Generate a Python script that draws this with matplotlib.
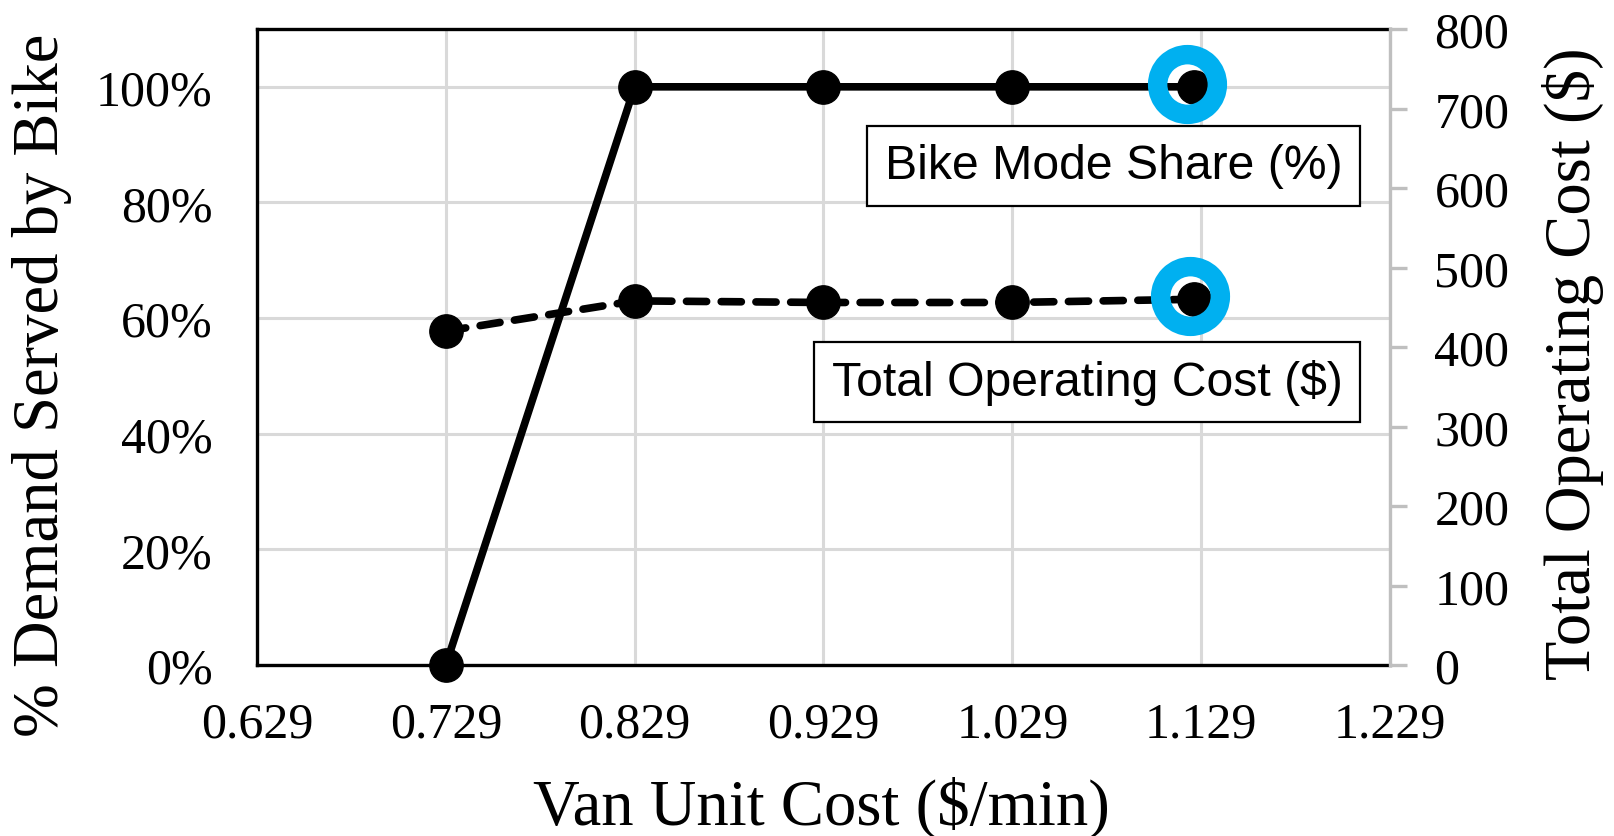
import matplotlib
matplotlib.use("Agg")
import matplotlib.pyplot as plt
from matplotlib.ticker import PercentFormatter

# data
van_cost = [0.729, 0.829, 0.929, 1.029, 1.125]
bike_share = [0.0, 1.0, 1.0, 1.0, 1.0]
total_cost = [420, 458, 456, 456, 460]
xticks = [0.629, 0.729, 0.829, 0.929, 1.029, 1.129, 1.229]
# highlight rings (x, share) and (x, cost)
ring_share = (1.1215, 1.005)
ring_cost = (1.123, 464)

plt.rcParams["font.family"] = ["Liberation Serif", "DejaVu Serif"]
plt.rcParams["lines.scale_dashes"] = False

fig = plt.figure(figsize=(16.15, 8.37), dpi=100)
ax = fig.add_axes([257/1615, 1-666/837, 1133/1615, 636/837])
ax2 = ax.twinx()

grid_c = "#D9D9D9"
ax.set_xlim(0.629, 1.229)
ax.set_ylim(0, 1.1)
ax.set_xticks(xticks)
ax.set_xticklabels(["%.3f" % v for v in xticks])
ax.set_yticks([0, 0.2, 0.4, 0.6, 0.8, 1.0])
ax.yaxis.set_major_formatter(PercentFormatter(1.0, decimals=0))
ax.grid(True, color=grid_c, lw=2.2, zorder=0)
ax.set_axisbelow(True)
ax.tick_params(axis="both", length=0, labelsize=36)
ax.tick_params(axis="x", pad=26)
ax.tick_params(axis="y", pad=32)
for s in ["top", "bottom", "left"]:
    ax.spines[s].set_linewidth(2.4)
    ax.spines[s].set_color("black")
ax.spines["right"].set_visible(False)

ax2.set_ylim(0, 800)
ax2.set_yticks(range(0, 801, 100))
ax2.tick_params(axis="y", length=12, width=2.4, color="#BFBFBF", labelsize=36, pad=20)
for s in ["top", "bottom", "left"]:
    ax2.spines[s].set_visible(False)
ax2.spines["right"].set_color("#BFBFBF")
ax2.spines["right"].set_linewidth(2.4)

ax.plot(van_cost, bike_share, color="black", lw=5.5, marker="o", ms=24,
        solid_capstyle="round", zorder=3, clip_on=False)
ax2.plot(van_cost, total_cost, color="black", lw=5.5, marker="o", ms=24,
         dashes=(14.5, 10.5), dash_capstyle="round", zorder=3, clip_on=False)

# blue highlight rings
ring_col = "#00B0F0"
ax2.plot([ring_share[0]], [ring_share[1] * 800 / 1.1], marker="o", ms=43, mew=14,
         mfc="none", mec=ring_col, ls="none", zorder=5)
ax2.plot([ring_cost[0]], [ring_cost[1]], marker="o", ms=43, mew=14,
         mfc="none", mec=ring_col, ls="none", zorder=5)

box = dict(boxstyle="square,pad=0.36", fc="white", ec="black", lw=1.6)
sans = ["Liberation Sans", "DejaVu Sans"]
ax2.text(0.958, 0.785, "Bike Mode Share (%)", transform=ax.transAxes,
         ha="right", va="center", fontsize=34.7, family=sans, bbox=box, zorder=6)
ax2.text(0.958, 0.445, "Total Operating Cost ($)", transform=ax.transAxes,
         ha="right", va="center", fontsize=34.7, family=sans, bbox=box, zorder=6)

fig.text(821/1615, 1-808/837, "Van Unit Cost ($/min)", ha="center", va="center", fontsize=46.5)
fig.text(42/1615, 1-385/837, "% Demand Served by Bike", ha="center", va="center",
         rotation=90, fontsize=46.5)
fig.text(1573/1615, 1-364/837, "Total Operating Cost ($)", ha="center", va="center",
         rotation=90, fontsize=46.5)

fig.savefig("out.png", dpi=100)
